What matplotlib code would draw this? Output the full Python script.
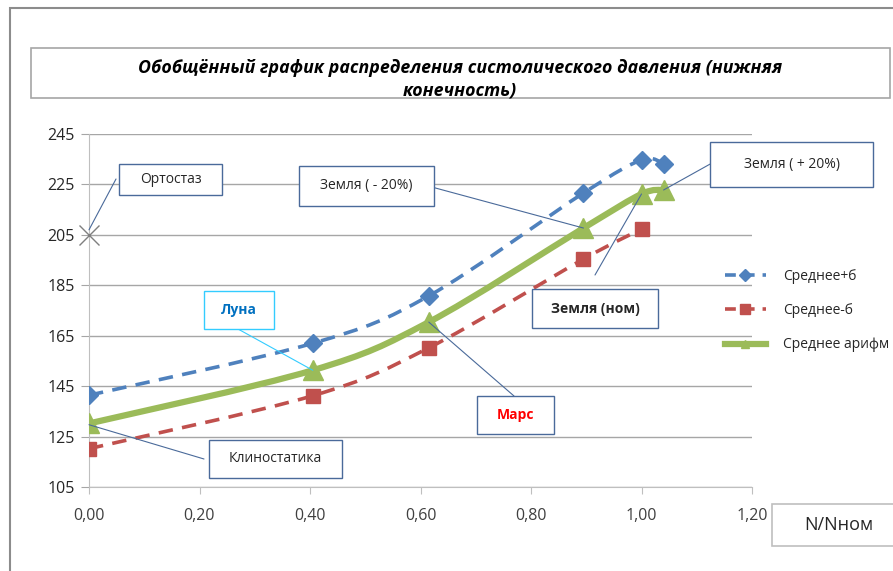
import numpy as np
import matplotlib
matplotlib.use("Agg")
import matplotlib.pyplot as plt
from matplotlib.path import Path
from matplotlib.patches import PathPatch, Rectangle
from matplotlib.lines import Line2D

plt.rcParams['font.family'] = ['Open Sans', 'DejaVu Sans']

# Data
x_plus = [0.0, 0.405, 0.615, 0.895, 1.0, 1.04]
y_plus = [141.4, 162.0, 180.8, 221.6, 234.7, 233.2]
x_minus = [0.0, 0.405, 0.615, 0.895, 1.0]
y_minus = [120.2, 141.2, 160.2, 195.4, 207.3]
x_mean = [0.0, 0.405, 0.615, 0.895, 1.0, 1.04]
y_mean = [130.2, 151.3, 170.4, 207.7, 221.2, 222.8]
ortho_x, ortho_y = 0.0, 205.0

x_ticks = [0.0, 0.2, 0.4, 0.6, 0.8, 1.0, 1.2]
x_ticklabels = ["0,00", "0,20", "0,40", "0,60", "0,80", "1,00", "1,20"]
y_ticks = [105, 125, 145, 165, 185, 205, 225, 245]

labels = ["Среднее+б", "Среднее-б", "Среднее арифм"]
title_1 = "Обобщённый график распределения систолического давления (нижняя"
title_2 = "конечность)"

W, H = 893, 571
BLUE = "#4F81BD"
RED = "#C0504D"
GREEN = "#9BBB59"
BORDER = "#4A6A9A"


def smooth_path(xs, ys):
    # Excel-like smoothed line: cubic bezier (Catmull-Rom control points)
    pts = np.column_stack([xs, ys])
    n = len(pts)
    verts = [pts[0]]
    codes = [Path.MOVETO]
    for i in range(n - 1):
        p0 = pts[i - 1] if i > 0 else pts[i]
        p1 = pts[i]
        p2 = pts[i + 1]
        p3 = pts[i + 2] if i + 2 < n else pts[i + 1]
        c1 = p1 + (p2 - p0) / 6.0
        c2 = p2 - (p3 - p1) / 6.0
        verts += [c1, c2, p2]
        codes += [Path.CURVE4] * 3
    return Path(verts, codes)


def fx(px):
    return px / W


def fy(py):
    return 1 - py / H


fig = plt.figure(figsize=(8.93, 5.71), dpi=100)

# outer frame (bottom and right edges fall outside the picture)
fig.patches.append(Rectangle((fx(10), fy(600)), fx(900) - fx(10), fy(8) - fy(600),
                             transform=fig.transFigure, fill=False,
                             edgecolor="#8C8C8C", lw=1.5))

ax = fig.add_axes([fx(89), fy(487), fx(752) - fx(89), fy(134) - fy(487)])
ax.set_xlim(0, 1.2)
ax.set_ylim(105, 245)
ax.set_xticks(x_ticks)
ax.set_xticklabels(x_ticklabels)
ax.set_yticks(y_ticks)
ax.grid(axis="y", color="#A6A6A6", lw=1)
ax.set_axisbelow(True)
for s in ["top", "right"]:
    ax.spines[s].set_visible(False)
ax.spines["left"].set_color("#BFBFBF")
ax.spines["bottom"].set_color("#BFBFBF")
ax.tick_params(axis="x", direction="out", length=5, color="#BFBFBF",
               labelsize=11.5, labelcolor="#404040", pad=10)
ax.tick_params(axis="y", direction="out", length=6, color="#A6A6A6",
               labelsize=11.5, labelcolor="#262626", pad=4)

dash = (0, (4, 2.6))
ax.add_patch(PathPatch(smooth_path(x_plus, y_plus), fill=False, edgecolor=BLUE,
                       lw=2.6, linestyle=dash, capstyle="butt", zorder=3))
ax.add_patch(PathPatch(smooth_path(x_minus, y_minus), fill=False, edgecolor=RED,
                       lw=2.6, linestyle=dash, capstyle="butt", zorder=3))
ax.add_patch(PathPatch(smooth_path(x_mean, y_mean), fill=False, edgecolor=GREEN,
                       lw=4.5, zorder=4))
ax.plot(x_plus, y_plus, ls="none", marker="D", ms=9, color=BLUE, zorder=5)
ax.plot(x_minus, y_minus, ls="none", marker="s", ms=10, color=RED, zorder=5)
ax.plot(x_mean, y_mean, ls="none", marker="^", ms=14, color=GREEN, zorder=6)
ax.plot([ortho_x], [ortho_y], ls="none", marker="x", ms=15, mew=1,
        color="#7F7F7F", zorder=6, clip_on=False)

handles = [
    Line2D([], [], color=BLUE, lw=2.6, ls=(0, (3, 2.2)), marker="D", ms=6),
    Line2D([], [], color=RED, lw=2.6, ls=(0, (3, 2.2)), marker="s", ms=7),
    Line2D([], [], color=GREEN, lw=4.5, marker="^", ms=6),
]
fig.legend(handles, labels, loc="upper left",
           bbox_to_anchor=(fx(712), fy(256)), frameon=False,
           fontsize=10, handlelength=3.0, handletextpad=1.2,
           labelspacing=1.4, labelcolor="#262626")


def box(x0, y0, x1, y1, text, edge=BORDER, color="#262626", weight="normal",
        size=10, style="normal", lw=1.0):
    fig.patches.append(Rectangle((fx(x0), fy(y1)), fx(x1) - fx(x0), fy(y0) - fy(y1),
                                 transform=fig.transFigure, facecolor="white",
                                 edgecolor=edge, lw=lw, zorder=10))
    fig.text(fx((x0 + x1) / 2), fy((y0 + y1) / 2), text, ha="center", va="center",
             color=color, fontsize=size, fontweight=weight, style=style, zorder=11)


def leader(px, py, xd, yd, color=BORDER):
    ax.annotate("", xy=(xd, yd), xycoords="data",
                xytext=(px, H - py), textcoords="figure pixels",
                arrowprops=dict(arrowstyle="-", color=color, lw=0.8,
                                shrinkA=0, shrinkB=0), zorder=7,
                annotation_clip=False)


# title
box(31, 48, 890, 98, "", edge="#A6A6A6", lw=1.2)
fig.text(fx(460), fy(68), title_1, ha="center", va="center", fontsize=12.8,
         fontweight="bold", style="italic", color="black", zorder=11)
fig.text(fx(460), fy(90), title_2, ha="center", va="center", fontsize=12.8,
         fontweight="bold", style="italic", color="black", zorder=11)

# annotation boxes
box(119, 164, 222, 195, "Ортостаз")
leader(116, 179, ortho_x, ortho_y + 2)
box(299, 166, 434, 206, "Земля ( - 20%)")
leader(428, 186, x_mean[3], y_mean[3])
box(710, 142, 873, 187, "Земля ( + 20%)")
leader(712, 163, x_mean[5], y_mean[5])
box(532, 289, 658, 328, "Земля (ном)", weight="bold")
leader(595, 275, x_mean[4], y_mean[4])
box(204, 291, 274, 329, "Луна", edge="#33CCFF", color="#0070C0", weight="bold")
leader(238, 329, x_mean[1], y_mean[1], color="#33CCFF")
box(477, 396, 554, 434, "Марс", color="#FF0000", weight="bold")
leader(514, 396, x_mean[2], y_mean[2])
box(209, 440, 342, 478, "Клиностатика")
leader(204, 459, x_mean[0], y_mean[0] - 0.5)
box(772, 504, 905, 546, "N/Nном", edge="#BFBFBF", size=13, lw=1.2)

fig.savefig("out.png", dpi=100)
